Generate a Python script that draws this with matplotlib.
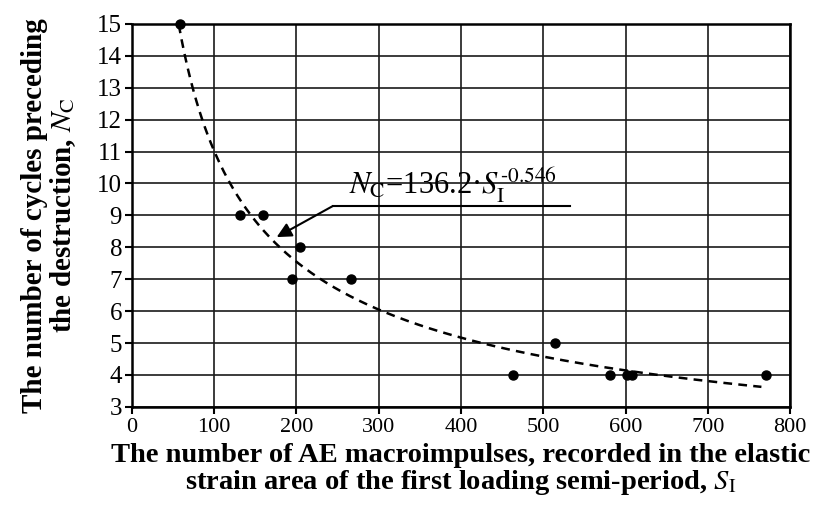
import numpy as np
import matplotlib
matplotlib.use("Agg")
import matplotlib.pyplot as plt
from matplotlib.patches import Rectangle

plt.rcParams['font.family'] = ['Liberation Serif', 'DejaVu Serif']
plt.rcParams['mathtext.fontset'] = 'stix'

# measured points (S_I, N_C)
s_vals = [58, 131, 159, 204, 195, 266, 463, 514, 581, 602, 608, 770]
n_vals = [15, 9, 9, 8, 7, 7, 4, 5, 4, 4, 4, 4]

# fitted power law printed on the chart
fit_a = 136.2
fit_b = -0.546
fit_range = (57, 765)

xticks = list(range(0, 801, 100))
yticks = list(range(3, 16))

fig = plt.figure(figsize=(8.24, 5.08), dpi=100)
ax = fig.add_axes([0.160, 0.199, 0.799, 0.754])

ax.set_xlim(0, 800)
ax.set_ylim(3, 15)
ax.set_xticks(xticks)
ax.set_yticks(yticks)
ax.grid(True, color='#1a1a1a', lw=1.2, zorder=0)
for sp in ax.spines.values():
    sp.set_linewidth(1.8)
ax.tick_params(direction='out', length=5, width=1.5, labelsize=16, pad=3)
ax.tick_params(axis='y', labelsize=18, pad=2)

# white area behind the equation
ax.add_patch(Rectangle((236, 9.32), 306, 1.62, facecolor='white',
                       edgecolor='none', zorder=1.5))

xs = np.linspace(fit_range[0], fit_range[1], 400)
ax.plot(xs, fit_a * xs ** fit_b, color='black', lw=1.8, ls=(0, (3.5, 2.5)), zorder=3)
ax.plot(s_vals, n_vals, 'o', color='black', ms=6.5, zorder=4, clip_on=False)

ax.text(390, 9.95, r'$N_{\mathrm{C}}$=136.2·$S_{\mathrm{I}}^{\text{-0.546}}$',
        ha='center', va='center', fontsize=22, zorder=5)
ax.plot([533, 244], [9.29, 9.29], color='black', lw=1.5, zorder=5)
ax.annotate('', xy=(176, 8.32), xytext=(244, 9.29),
            arrowprops=dict(arrowstyle='-|>', color='black', lw=1.5,
                            mutation_scale=22, shrinkA=0, shrinkB=0), zorder=5)

ax.set_xlabel('The number of AE macroimpulses, recorded in the elastic\n'
              r'strain area of the first loading semi-period, $S_{\mathrm{I}}$',
              fontsize=20.5, fontweight='bold', labelpad=4, linespacing=1.0)
ax.set_ylabel('The number of cycles preceding\n'
              r'the destruction, $N_{\mathrm{C}}$',
              fontsize=21, fontweight='bold', labelpad=14, linespacing=1.0)

fig.savefig('out.png', dpi=100)
